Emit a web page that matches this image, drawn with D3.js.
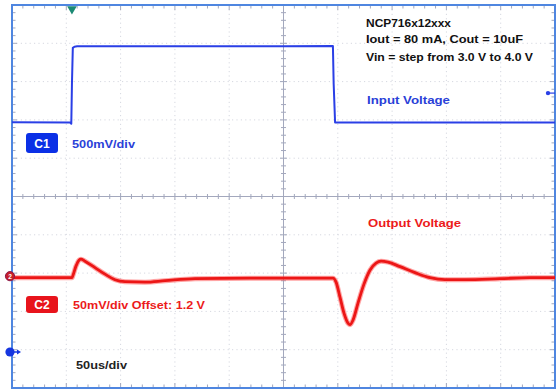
<!DOCTYPE html>
<html><head><meta charset="utf-8">
<script src="https://cdn.jsdelivr.net/npm/d3@7"></script>
<style>html,body{margin:0;padding:0;background:#fff;} svg{display:block;font-family:"Liberation Sans",Arial,sans-serif;}</style>
</head><body><svg id="c" width="558" height="390"></svg>
<script>
// ---- data ----
// Input voltage (C1, volts) vs time (us)
const inTimeUs = [0, 53.5, 54.6, 55.2, 56.0, 57.5, 60, 150, 250, 295.5, 296.2, 297.5, 400, 500];
const inputV   = [3.0, 2.995, 2.98, 3.5, 3.97, 3.985, 3.99, 3.99, 3.99, 3.995, 3.5, 2.995, 2.995, 2.995];
// Output voltage (C2, volts) vs time (us)
const outTimeUs = [0, 55.2, 56.2, 58.9, 61.7, 63.5, 67.2, 76.4, 85.6, 94.8, 104, 122.5, 140.9, 168.5, 219, 295.6, 298.4, 302, 305.7, 309.4, 311.2, 314, 318.6, 324.1, 329.6, 335.2, 339.8, 346.2, 357.3, 371.1, 384.9, 398.7, 417.1, 449.3, 477, 500];
const outputV   = [1.198, 1.198, 1.2013, 1.2131, 1.2209, 1.2222, 1.2196, 1.2111, 1.2026, 1.1954, 1.1928, 1.1922, 1.1941, 1.1967, 1.1974, 1.1974, 1.1922, 1.1726, 1.1517, 1.1386, 1.1367, 1.1426, 1.1648, 1.1896, 1.2078, 1.2170, 1.2196, 1.2183, 1.2124, 1.2046, 1.1980, 1.1954, 1.1954, 1.1967, 1.1980, 1.198];
const noteLines = ["NCP716x12xxx", "Iout = 80 mA, Cout = 10uF", "Vin = step from 3.0 V to 4.0 V"];
const c1Label = "C1", c1Scale = "500mV/div";
const c2Label = "C2", c2Scale = "50mV/div Offset: 1.2 V";
const timeScaleLabel = "50us/div";
const inputLabel = "Input Voltage", outputLabel = "Output Voltage";
const c1VoltsPerDiv = 0.5, c2VoltsPerDiv = 0.05, c2Offset = 1.2, c1ZeroDiv = 0.94, c2OffsetDiv = 2.92, trigLevelV = 3.38;

// ---- layout ----
const L = 12, R = 555, T = 5, B = 388;
const nX = 10, nY = 10;
const svg = d3.select("#c");
svg.append("rect").attr("width", 558).attr("height", 390).attr("fill", "#fff");

const x = d3.scaleLinear().domain([0, 500]).range([L, R]);
const yC1 = d3.scaleLinear().domain([-c1ZeroDiv * c1VoltsPerDiv, (nY - c1ZeroDiv) * c1VoltsPerDiv]).range([B, T]);
const yC2 = d3.scaleLinear().domain([c2Offset - c2OffsetDiv * c2VoltsPerDiv, c2Offset + (nY - c2OffsetDiv) * c2VoltsPerDiv]).range([B, T]);
const gx = d3.scaleLinear().domain([0, nX]).range([L, R]);
const gy = d3.scaleLinear().domain([0, nY]).range([T, B]);

// dotted grid
const g = svg.append("g");
const gridCol = "#d6d8e0";
g.selectAll("line.vg").data(d3.range(1, nX).filter(i => i !== 5)).join("line")
  .attr("x1", d => gx(d)).attr("x2", d => gx(d)).attr("y1", T).attr("y2", B)
  .attr("stroke", gridCol).attr("stroke-width", 1).attr("stroke-dasharray", "1.2,3.2");
g.selectAll("line.hg").data(d3.range(1, nY).filter(i => i !== 5)).join("line")
  .attr("y1", d => gy(d)).attr("y2", d => gy(d)).attr("x1", L).attr("x2", R)
  .attr("stroke", gridCol).attr("stroke-width", 1).attr("stroke-dasharray", "1.2,3.2");

// center axes
const axCol = "#a3a8bd";
g.append("line").attr("x1", gx(5)).attr("x2", gx(5)).attr("y1", T).attr("y2", B).attr("stroke", axCol);
g.append("line").attr("y1", gy(5)).attr("y2", gy(5)).attr("x1", L).attr("x2", R).attr("stroke", axCol);
const minorX = d3.range(1, nX * 5).map(i => i / 5);
const minorY = d3.range(1, nY * 5).map(i => i / 5);
g.selectAll("line.tx").data(minorX).join("line")
  .attr("x1", d => gx(d)).attr("x2", d => gx(d))
  .attr("y1", d => gy(5) - (d % 1 === 0 ? 3.5 : 2.5)).attr("y2", d => gy(5) + (d % 1 === 0 ? 3.5 : 2.5))
  .attr("stroke", axCol);
g.selectAll("line.ty").data(minorY).join("line")
  .attr("y1", d => gy(d)).attr("y2", d => gy(d))
  .attr("x1", d => gx(5) - (d % 1 === 0 ? 3.5 : 2.5)).attr("x2", d => gx(5) + (d % 1 === 0 ? 3.5 : 2.5))
  .attr("stroke", axCol);
// border ticks
g.selectAll("line.bt").data(minorX).join("line")
  .attr("x1", d => gx(d)).attr("x2", d => gx(d)).attr("y1", T).attr("y2", d => T + (d % 1 === 0 ? 5 : 3.5)).attr("stroke", axCol);
g.selectAll("line.bb").data(minorX).join("line")
  .attr("x1", d => gx(d)).attr("x2", d => gx(d)).attr("y1", B).attr("y2", d => B - (d % 1 === 0 ? 5 : 3.5)).attr("stroke", axCol);
g.selectAll("line.bl").data(minorY).join("line")
  .attr("y1", d => gy(d)).attr("y2", d => gy(d)).attr("x1", L).attr("x2", d => L + (d % 1 === 0 ? 5 : 3.5)).attr("stroke", axCol);
g.selectAll("line.br").data(minorY).join("line")
  .attr("y1", d => gy(d)).attr("y2", d => gy(d)).attr("x1", R).attr("x2", d => R - (d % 1 === 0 ? 5 : 3.5)).attr("stroke", axCol);

// frame
svg.append("rect").attr("x", L).attr("y", T).attr("width", R - L).attr("height", B - T)
  .attr("fill", "none").attr("stroke", "#4f86e0").attr("stroke-width", 2);

// ---- traces ----
const inLine = d3.line().x((d, i) => x(inTimeUs[i])).y(d => yC1(d));
svg.append("path").attr("d", inLine(inputV)).attr("fill", "none")
  .attr("stroke", "#2a3fe6").attr("stroke-width", 2).attr("stroke-linejoin", "round");

const outLine = d3.line().x((d, i) => x(outTimeUs[i])).y(d => yC2(d)).curve(d3.curveMonotoneX);
svg.append("path").attr("d", outLine(outputV)).attr("fill", "none")
  .attr("stroke", "#ff4a4a").attr("stroke-opacity", 0.5).attr("stroke-width", 5);
svg.append("path").attr("d", outLine(outputV)).attr("fill", "none")
  .attr("stroke", "#ec1616").attr("stroke-width", 2.8);

// ---- markers ----
svg.append("path").attr("d", d3.symbol(d3.symbolTriangle, 40)()).attr("transform", `translate(${x(inTimeUs[3])},9) rotate(180)`)
  .attr("fill", "#1b8a74");
svg.append("line").attr("x1", R - 7).attr("x2", R).attr("y1", yC1(trigLevelV)).attr("y2", yC1(trigLevelV)).attr("stroke", "#2a3fe6").attr("stroke-width", 1.2);
svg.append("circle").attr("cx", R - 7).attr("cy", yC1(trigLevelV)).attr("r", 2.2).attr("fill", "#2a3fe6");

svg.append("circle").attr("cx", 10).attr("cy", yC2(c2Offset)).attr("r", 4.6).attr("fill", "#c81f2a").attr("stroke", "#8a1b4a").attr("stroke-width", 1);
svg.append("text").attr("x", 10).attr("y", yC2(c2Offset) + 2.5).attr("text-anchor", "middle").attr("font-size", 6.5).attr("font-weight", "bold").attr("fill", "#fff").text("2");
svg.append("circle").attr("cx", 10).attr("cy", yC1(0)).attr("r", 4.6).attr("fill", "#1636e0");
svg.append("path").attr("d", `M14,${yC1(0)}H18`).attr("stroke", "#1636e0").attr("stroke-width", 1.5);
svg.append("path").attr("d", `M17,${yC1(0) - 2.5}L21,${yC1(0)}L17,${yC1(0) + 2.5}Z`).attr("fill", "#1636e0");

// ---- labels ----
function txt(s, xx, yy, col, size, len) {
  return svg.append("text").attr("x", xx).attr("y", yy).attr("fill", col)
    .attr("font-size", size).attr("font-weight", "bold")
    .attr("textLength", len).attr("lengthAdjust", "spacingAndGlyphs").text(s);
}
const noteY = [27, 43, 61], noteW = [85, 157, 167];
noteLines.forEach((s, i) => txt(s, 366, noteY[i], "#111", 11.5, noteW[i]));
txt(inputLabel, 367, 104, "#2a3fd8", 11.5, 83);
txt(outputLabel, 368, 227, "#ec1a1a", 11.5, 93);

svg.append("rect").attr("x", 26).attr("y", 133).attr("width", 32).attr("height", 20).attr("rx", 3).attr("fill", "#0b30e6");
svg.append("text").attr("x", 42).attr("y", 147.5).attr("text-anchor", "middle").attr("fill", "#fff").attr("font-size", 12).attr("font-weight", "bold").text(c1Label);
txt(c1Scale, 72, 148.3, "#2a3fd8", 11.5, 63);

svg.append("rect").attr("x", 26).attr("y", 296).attr("width", 32).attr("height", 17).attr("rx", 3).attr("fill", "#e8141c");
svg.append("text").attr("x", 42).attr("y", 309).attr("text-anchor", "middle").attr("fill", "#fff").attr("font-size", 12).attr("font-weight", "bold").text(c2Label);
txt(c2Scale, 73, 309.3, "#ec1a1a", 11.5, 132);

txt(timeScaleLabel, 76, 369.3, "#222", 11.5, 51);
</script></body></html>
